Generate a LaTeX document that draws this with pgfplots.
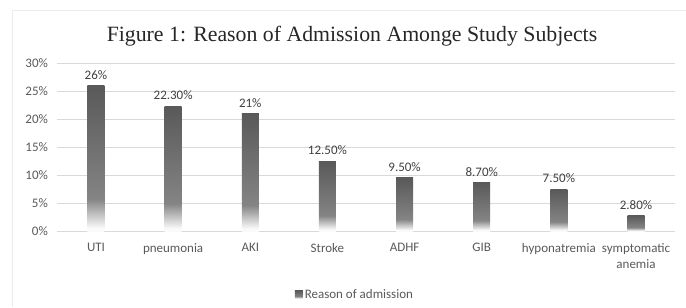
\documentclass[border=0pt]{standalone}
\usepackage{pgfplots}
\pgfplotsset{compat=1.18}
\usepackage{fontspec}
\setmainfont{Carlito}
\newfontfamily\titlefont{Liberation Serif}
\definecolor{cA}{HTML}{FAFAFA}
\definecolor{cB}{HTML}{848484}
\definecolor{cC}{HTML}{595959}
\definecolor{tickgray}{HTML}{595959}
\definecolor{labgray}{HTML}{404040}
\definecolor{gridgray}{HTML}{D9D9D9}
\definecolor{framegray}{HTML}{EBEBEB}
\pgfdeclareverticalshading{barshade}{100bp}{color(0bp)=(cA); color(25bp)=(cA); color(26bp)=(cA); color(36bp)=(cB); color(75bp)=(cC); color(100bp)=(cC)}
\pgfplotsset{mybar/.style={ybar, bar width=17bp, bar shift=0pt, draw=none, shading=barshade,
  legend image code/.code={\fill[cB!85!black] (0bp,-3.5bp) rectangle (8bp,4.5bp);}}}
\begin{document}
\begin{tikzpicture}[x=1bp,y=1bp]
\path[use as bounding box] (0,0) rectangle (686,307);
\draw[framegray, line width=1.5bp] (12.5,0) -- (12.5,296.5) -- (686,296.5);
\node[font=\titlefont\fontsize{21.8bp}{25bp}\selectfont, text=black!85] at (352,270.5) {Figure 1: Reason of Admission Amonge Study Subjects};
\begin{axis}[
  at={(57.4bp,76bp)}, anchor=south west,
  scale only axis, width=617.2bp, height=168bp,
  xmin=-0.5, xmax=7.5, ymin=0, ymax=30,
  ytick={0,5,...,30},
  yticklabel={\pgfmathprintnumber{\tick}\%},
  /pgf/number format/assume math mode=true,
  xtick={0,1,...,7},
  xticklabels={UTI,pneumonia,AKI,Stroke,ADHF,GIB,hyponatremia,{symptomatic\\anemia}},
  xticklabel style={align=center, font=\fontsize{13bp}{15.5bp}\selectfont, text=tickgray},
  yticklabel style={font=\fontsize{13bp}{15bp}\selectfont, text=tickgray},
  major tick length=0pt,
  axis y line*=left, axis x line*=bottom,
  y axis line style={draw=none},
  x axis line style={draw=gridgray, line width=0.8bp},
  ymajorgrids, grid style={gridgray, line width=0.8bp},
  ytick style={draw=none}, xtick style={draw=none},
  xticklabel shift=9bp, yticklabel shift=6bp,
  nodes near coords,
  point meta=explicit symbolic,
  nodes near coords style={font=\fontsize{13bp}{15bp}\selectfont, text=labgray, yshift=2.5bp},
  legend style={at={(0.482,-0.38)}, anchor=center, draw=none, fill=none, font=\fontsize{13bp}{15bp}\selectfont, text=tickgray, legend cell align=left},
  clip=false,
]
\addplot[mybar] coordinates {(0,26) [26\%]};
\addlegendentry{Reason of admission}
\addplot[mybar, forget plot] coordinates {(1,22.3) [22.30\%]};
\addplot[mybar, forget plot] coordinates {(2,21) [21\%]};
\addplot[mybar, forget plot] coordinates {(3,12.5) [12.50\%]};
\addplot[mybar, forget plot] coordinates {(4,9.5) [9.50\%]};
\addplot[mybar, forget plot] coordinates {(5,8.7) [8.70\%]};
\addplot[mybar, forget plot] coordinates {(6,7.5) [7.50\%]};
\addplot[mybar, forget plot] coordinates {(7,2.8) [2.80\%]};
\end{axis}
\end{tikzpicture}
\end{document}
